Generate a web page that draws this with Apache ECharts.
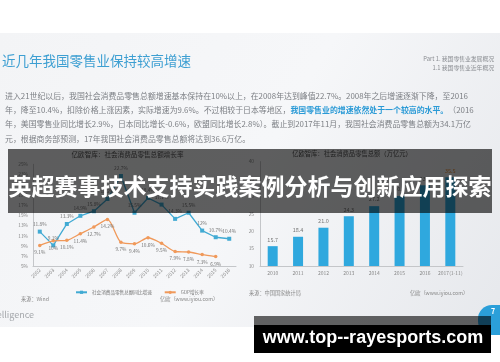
<!DOCTYPE html>
<html><head><meta charset="utf-8">
<script src="https://cdn.jsdelivr.net/npm/echarts@6/dist/echarts.min.js"></script>
<style>html,body{margin:0;padding:0;background:#fff}#c{width:500px;height:362px}</style>
</head><body><div id="c"></div>
<script>
// ---- data ----
const years = ['2002','2003','2004','2005','2006','2007','2008','2009','2010','2011','2012','2013','2014','2015','2016'];
const retailGrowth = [11.8, 9.1, 13.3, 14.9, 15.8, 18.2, 22.7, 15.5, 18.4, 17.1, 14.3, 15.5, 12.0, 10.7, 10.4];
const gdpGrowth = [9.1, 10.0, 10.1, 11.4, 12.7, 14.2, 9.7, 9.4, 10.6, 9.5, 7.9, 7.8, 7.3, 6.9, null];
const barYears = ['2010','2011','2012','2013','2014','2015','2016','2017(1-11)'];
const retailTotal = [15.7, 18.4, 21.0, 24.3, 27.2, 30.1, 33.2, 35.5];
const leftTicks = {min: 5, max: 25, interval: 2};
const rightTicks = {min: 10, max: 40, interval: 5};
const seriesNames = ['社会消费品零售总额同比增速', 'GDP增长率'];

const FONT = '"Noto Sans CJK SC", "Noto Sans", sans-serif';
const chart = echarts.init(document.getElementById('c'));
const txt = (x, y, text, size, color, extra, el) => Object.assign({
  type: 'text', x: x, y: y, z: 5,
  style: Object.assign({text: text, fontSize: size, fill: color, fontFamily: FONT, textVerticalAlign: 'middle'}, extra || {})
}, el || {});

chart.setOption({
  animation: false,
  textStyle: {fontFamily: FONT},
  grid: [
    {left: 33, top: 164.3, width: 203, height: 102},
    {left: 260, top: 161.6, width: 203, height: 104.4}
  ],
  legend: {
    data: seriesNames, left: 70, top: 285, itemWidth: 11, itemHeight: 4, itemGap: 12,
    textStyle: {fontSize: 4.6, color: '#777', fontFamily: FONT}
  },
  xAxis: [
    {type: 'category', gridIndex: 0, data: years,
     axisLine: {lineStyle: {color: '#c4c6c9'}}, axisTick: {show: false},
     axisLabel: {rotate: 45, interval: 0, fontSize: 5, color: '#888', margin: 3}},
    {type: 'category', gridIndex: 1, data: barYears,
     axisLine: {lineStyle: {color: '#c4c6c9'}}, axisTick: {show: false},
     axisLabel: {interval: 0, fontSize: 5, color: '#888', margin: 5}}
  ],
  yAxis: [
    {type: 'value', gridIndex: 0, min: leftTicks.min, max: leftTicks.max, interval: leftTicks.interval,
     axisLine: {show: true, lineStyle: {color: '#c4c6c9'}}, axisTick: {show: false}, splitLine: {show: false},
     axisLabel: {formatter: '{value}%', fontSize: 4.8, color: '#888', margin: 5}},
    {type: 'value', gridIndex: 1, min: rightTicks.min, max: rightTicks.max, interval: rightTicks.interval,
     axisLine: {show: true, lineStyle: {color: '#c4c6c9'}}, axisTick: {show: false}, splitLine: {show: false},
     axisLabel: {fontSize: 4.8, color: '#888', margin: 6}}
  ],
  series: [
    {name: seriesNames[0], type: 'line', xAxisIndex: 0, yAxisIndex: 0, data: retailGrowth,
     symbol: 'rect', symbolSize: 4, lineStyle: {color: '#41aad3', width: 1.3},
     itemStyle: {color: '#41aad3'},
     label: {show: true, position: 'top', distance: 3, fontSize: 4.8, color: '#777', formatter: '{c}%'}},
    {name: seriesNames[1], type: 'line', xAxisIndex: 0, yAxisIndex: 0, data: gdpGrowth,
     symbol: 'circle', symbolSize: 3.5, smooth: 0.25, lineStyle: {color: '#f0995a', width: 1.3},
     itemStyle: {color: '#f0995a'},
     label: {show: true, position: 'bottom', distance: 3, fontSize: 4.8, color: '#777', formatter: '{c}%'}},
    {name: 'total', type: 'bar', xAxisIndex: 1, yAxisIndex: 1, data: retailTotal.map((v, i) => ({
        value: v,
        label: i === retailTotal.length - 1 ? {color: '#e8923f'} : undefined
      })),
     barWidth: 10, itemStyle: {color: '#2fa8de'},
     label: {show: true, position: 'top', distance: 4, fontSize: 5.5, color: '#777', formatter: p => p.value.toFixed(1)}}
  ],
  graphic: [
    {type: 'rect', z: -10, shape: {x: 0, y: 33, width: 500, height: 294},
     style: {fill: new echarts.graphic.LinearGradient(0, 0, 1, 1, [
       {offset: 0, color: '#f3f4f6'}, {offset: 0.5, color: '#f6f7f9'}, {offset: 1, color: '#e6e8ec'}])}},
    txt(2, 61, '近几年我国零售业保持较高增速', 13.5, '#3d9fd2'),
    txt(494, 59, 'Part 1. 我国零售业发展概况', 5.8, '#8a8d92', {textAlign: 'right'}),
    txt(494, 67.3, '1.1 我国零售业近年概况', 5.8, '#8a8d92', {textAlign: 'right'}),
    txt(5, 95.7, '进入21世纪以后，我国社会消费品零售总额增速基本保持在10%以上，在2008年达到峰值22.7%。2008年之后增速逐渐下降，至2016', 7.9, '#7c7f84'),
    {type: 'text', x: 5, y: 110, z: 5, style: {
      text: '{n|年，降至10.4%，扣除价格上涨因素，实际增速为9.6%。不过相较于日本等地区，}{b|我国零售业的增速依然处于一个较高的水平。}{n|（2016}',
      fontFamily: FONT, textVerticalAlign: 'middle',
      rich: {n: {fontSize: 7.9, fill: '#7c7f84', color: '#7c7f84', fontFamily: FONT},
             b: {fontSize: 7.9, fill: '#2a9ad6', color: '#2a9ad6', fontWeight: 'bold', fontFamily: FONT}}}},
    txt(5, 124.3, '年，美国零售业同比增长2.9%，日本同比增长-0.6%，欧盟同比增长2.8%）。截止到2017年11月，我国社会消费品零售总额为34.1万亿', 7.9, '#7c7f84'),
    txt(5, 138.7, '元，根据商务部预测，17年我国社会消费品零售总额将达到36.6万亿。', 7.9, '#7c7f84'),
    txt(127.5, 154, '亿欧智库：社会消费品零售总额增长率', 6.6, '#555', {textAlign: 'center'}),
    txt(352, 154, '亿欧智库：社会消费品零售总额（万亿元）', 6.3, '#555', {textAlign: 'center'}),
    txt(21, 299, '来源：Wind', 5.2, '#888'),
    txt(160, 299, '亿欧（www.iyiou.com）', 5.2, '#888'),
    txt(249, 292.7, '来源：中国国家统计局', 5.2, '#888'),
    txt(410, 292.7, '亿欧（www.iyiou.com）', 5.2, '#888'),
    txt(34, 315, 'Intelligence', 9, '#a4a7ab', {textAlign: 'right'}),
    {type: 'rect', z: 5, shape: {x: 478, y: 305, width: 40, height: 30, r: 14}, style: {fill: '#2b9fd9'}},
    txt(493, 311.7, '7', 7, '#fff', {textAlign: 'center', fontWeight: 'bold'}),
    // overlays (separate upper layer)
    {type: 'rect', zlevel: 5, z: 100, shape: {x: 8, y: 149, width: 484, height: 64}, style: {fill: 'rgba(0,0,0,0.62)'}},
    txt(250, 186, '英超赛事技术支持实践案例分析与创新应用探索', 23, '#fff', {textAlign: 'center', fontWeight: 'bold'}, {zlevel: 5, z: 101}),
    {type: 'rect', zlevel: 5, z: 100, shape: {x: 254, y: 316, width: 237, height: 9}, style: {fill: 'rgba(0,0,0,0.6)'}},
    {type: 'rect', zlevel: 5, z: 100, shape: {x: 254, y: 325, width: 237, height: 28}, style: {fill: '#000'}},
    {type: 'text', x: 373, y: 338, zlevel: 5, z: 101, style: {text: 'www.top--rayesports.com', fontSize: 18, fontWeight: 'bold',
      fill: '#fff', fontFamily: '"Liberation Sans", Arial, sans-serif', textAlign: 'center', textVerticalAlign: 'middle'}}
  ]
});
</script></body></html>
